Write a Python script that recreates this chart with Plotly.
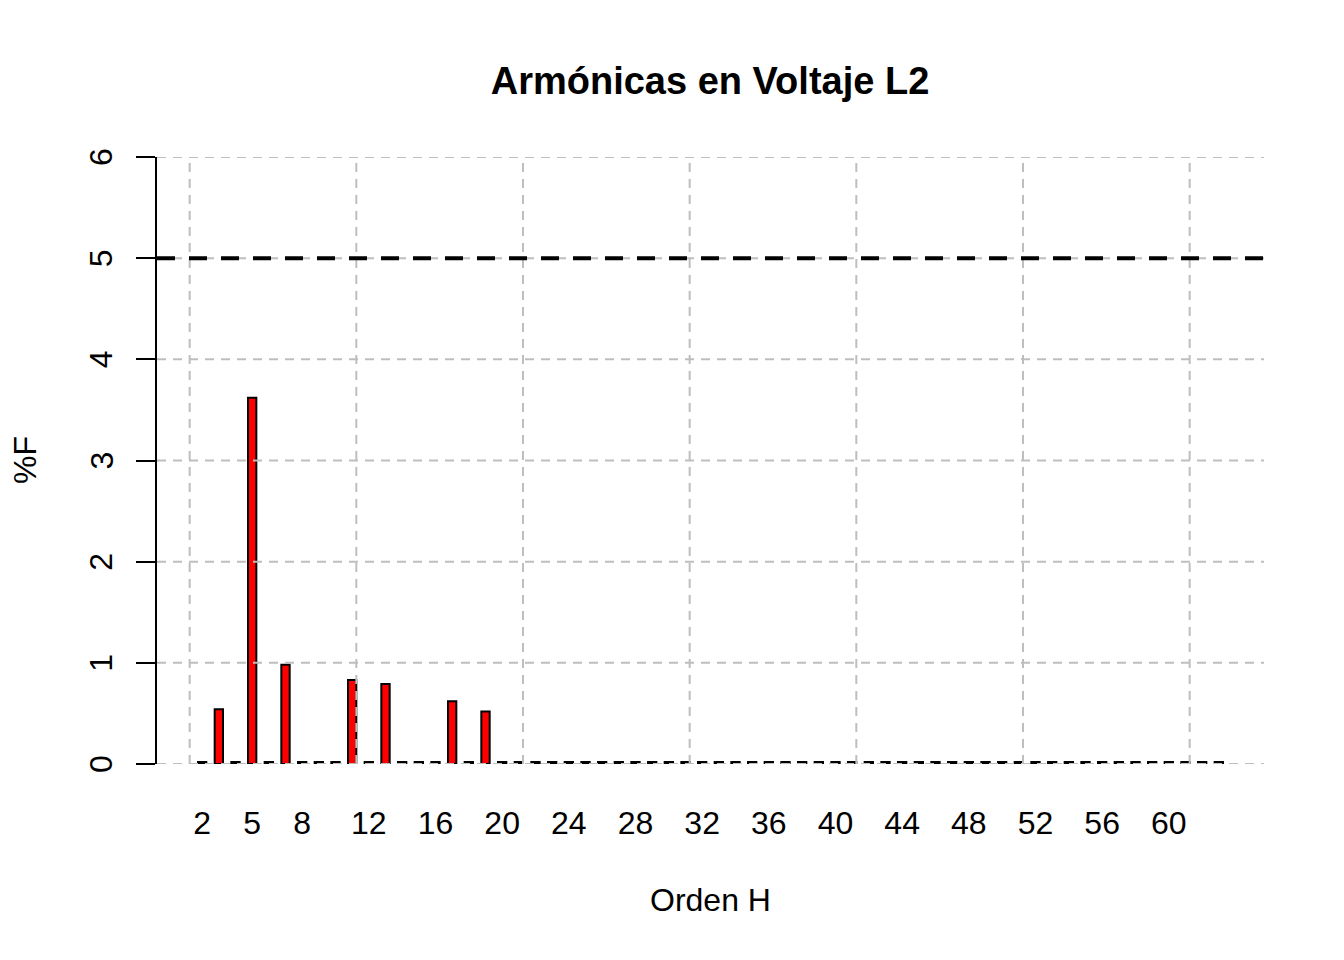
import plotly.graph_objects as go

# ---- data ----
harmonics = list(range(2, 64))
values = [
    0.02, 0.54, 0.02, 3.62, 0.02, 0.98, 0.02, 0.02, 0.02, 0.83,   # 2-11
    0.02, 0.79, 0.02, 0.02, 0.02, 0.62, 0.02, 0.52, 0.02, 0.02,   # 12-21
    0.02, 0.02, 0.02, 0.02, 0.02, 0.02, 0.02, 0.02, 0.02, 0.02,   # 22-31
    0.02, 0.02, 0.02, 0.02, 0.02, 0.02, 0.02, 0.02, 0.02, 0.02,   # 32-41
    0.02, 0.02, 0.02, 0.02, 0.02, 0.02, 0.02, 0.02, 0.02, 0.02,   # 42-51
    0.02, 0.02, 0.02, 0.02, 0.02, 0.02, 0.02, 0.02, 0.02, 0.02,   # 52-61
    0.02, 0.02,                                                   # 62-63
]
x_tick_vals = [2, 5, 8, 12, 16, 20, 24, 28, 32, 36, 40, 44, 48, 52, 56, 60]
y_tick_vals = [0, 1, 2, 3, 4, 5, 6]
x_grid = [1.25, 11.25, 21.25, 31.25, 41.25, 51.25, 61.25]
limit = 5

FONT = "Liberation Sans, Arial, sans-serif"

fig = go.Figure()
fig.add_trace(go.Bar(
    x=harmonics, y=values, width=0.5,
    marker=dict(color="red", line=dict(color="black", width=2)),
    showlegend=False, hoverinfo="x+y",
))

shapes = []
for gy in y_tick_vals:
    shapes.append(dict(type="line", xref="paper", yref="y", x0=0, x1=1, y0=gy, y1=gy,
                       line=dict(color="#BEBEBE", width=2, dash="9px,7px"), layer="above"))
for gx in x_grid:
    shapes.append(dict(type="line", xref="x", yref="y", x0=gx, x1=gx, y0=0, y1=6,
                       line=dict(color="#BEBEBE", width=2, dash="9px,7px"), layer="above"))
shapes.append(dict(type="line", xref="paper", yref="y", x0=0, x1=1, y0=limit, y1=limit,
                   line=dict(color="black", width=4, dash="18px,14px"), layer="above"))

annotations = [
    dict(text="Orden H", xref="paper", yref="paper", x=0.5, y=-(900 - 764) / 607,
         xanchor="center", yanchor="middle", showarrow=False,
         font=dict(family=FONT, size=32, color="black")),
    dict(text="%F", xref="paper", yref="paper", x=(25 - 157) / 1107, y=(764 - 460) / 607,
         xanchor="center", yanchor="middle", showarrow=False, textangle=-90,
         font=dict(family=FONT, size=32, color="black")),
]
for v in y_tick_vals:
    annotations.append(dict(text=str(v), xref="paper", yref="y", x=(101 - 157) / 1107, y=v,
                            xanchor="center", yanchor="middle", showarrow=False,
                            textangle=-90, font=dict(family=FONT, size=32, color="black")))

fig.update_layout(
    width=1344, height=960,
    margin=dict(l=149, r=88, t=149, b=204),
    paper_bgcolor="white", plot_bgcolor="white",
    font=dict(family=FONT, size=32, color="black"),
    title=dict(text="<b>Armónicas en Voltaje L2</b>", x=702 / 1344, xanchor="center",
               xref="container",
               y=1 - 73 / 960, yanchor="middle", yref="container",
               font=dict(family=FONT, size=38, color="black")),
    xaxis=dict(range=[-0.71, 65.71], tickvals=x_tick_vals,
               ticktext=[str(v) for v in x_tick_vals],
               showgrid=False, zeroline=False, showline=False, ticks="",
               ticklabelstandoff=37, tickfont=dict(size=32)),
    yaxis=dict(range=[0, 6], tickvals=y_tick_vals, showticklabels=False,
               showgrid=False, zeroline=False, showline=True, linecolor="black", linewidth=2,
               ticks="outside", ticklen=19, tickwidth=2, tickcolor="black"),
    shapes=shapes,
    annotations=annotations,
)

fig.write_html("out.html")
